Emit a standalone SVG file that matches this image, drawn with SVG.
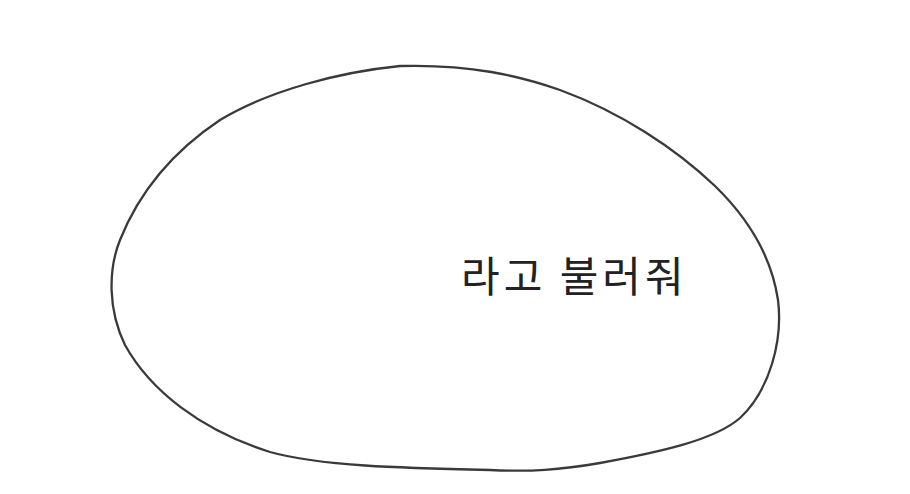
<svg xmlns="http://www.w3.org/2000/svg" width="910" height="494" viewBox="0 0 910 494">
<style>
.blob{fill:none;stroke:#3a3a3a;stroke-width:2.3;stroke-linejoin:round;stroke-linecap:round}
.lbl{font-family:"Noto Sans CJK KR","Noto Sans",sans-serif;font-size:42px;font-weight:400;letter-spacing:4px;fill:#222}
</style>
<rect width="910" height="494" fill="#fff"/>
<g id="blob">
<path class="blob" d="M 400,66 C 470,64 520,76 560,90 C 620,112 675,148 715,186 C 752,222 772,260 778,300 C 783,340 770,390 740,418 C 715,440 660,452 600,463 C 560,470 530,472 490,470 C 400,468 320,466 270,452 C 200,430 150,390 125,345 C 108,310 108,270 120,240 C 140,190 175,150 220,120 C 270,90 340,72 400,66 Z"/>
<text class="lbl" x="461" y="292">라고 불러줘</text>
</g>
</svg>
